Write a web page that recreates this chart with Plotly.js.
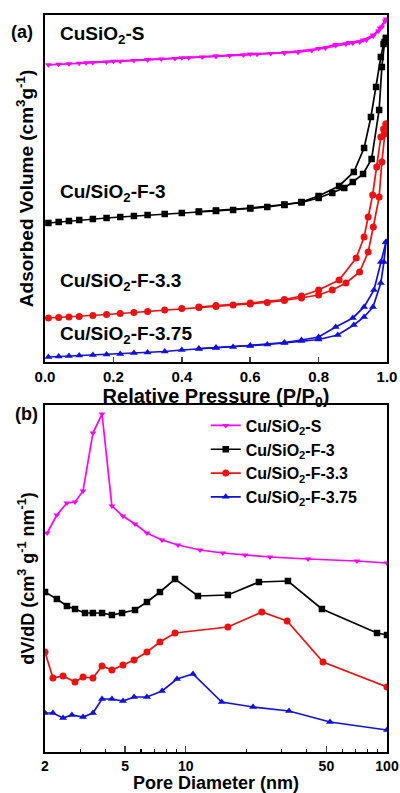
<!DOCTYPE html>
<html>
<head>
<meta charset="utf-8">
<script src="https://cdn.plot.ly/plotly-3.0.1.min.js"></script>
<style>html,body{margin:0;padding:0;background:#fff;}#chart{width:400px;height:793px;}</style>
</head>
<body>
<div id="chart"></div>
<script>
// ---------- Panel (a): N2 isotherms (arbitrary offset units) ----------
const sAdsP = [0.01,0.04,0.07,0.10,0.14,0.18,0.22,0.26,0.30,0.34,0.38,0.42,0.46,0.50,0.54,0.58,0.62,0.66,0.70,0.74,0.78,0.82,0.85,0.88,0.90,0.92,0.94,0.96,0.975,0.985,0.995];
const sAdsV = [297.2,297.7,298.2,298.7,299.4,300.1,300.8,301.5,302.2,302.9,303.6,304.3,305.0,305.7,306.4,307.1,307.7,308.4,309.1,309.8,311.5,314,316.5,318,319,320,322,326,331,335,341];
const sDesP = [0.997,0.98,0.96,0.93,0.89,0.85,0.80,0.70,0.60,0.50,0.40,0.30,0.20,0.12];
const sDesV = [343,334,327,322,319.5,317.5,313.5,309.5,308,306,304.3,302.5,300.8,299.3];

const f3AdsP = [0.01,0.04,0.07,0.10,0.14,0.18,0.22,0.26,0.30,0.35,0.40,0.45,0.50,0.55,0.60,0.65,0.70,0.75,0.80,0.84,0.875,0.90,0.93,0.955,0.977,0.985,0.993,0.997];
const f3AdsV = [139,140,141,142,143,144,145,146,147,148,149,150,151,152,153.5,155,157,159.5,164,169,174,180,188,203,252,295,320,324];
const f3DesP = [0.997,0.99,0.982,0.968,0.953,0.933,0.903,0.86,0.80,0.75,0.70,0.60,0.50,0.45];
const f3DesV = [324,318,305,275,245,214,190,176,166,160,157.5,154,151.5,150.5];

const f33AdsP = [0.01,0.04,0.07,0.10,0.14,0.18,0.22,0.26,0.30,0.35,0.40,0.45,0.50,0.55,0.60,0.65,0.70,0.75,0.80,0.84,0.88,0.92,0.945,0.96,0.977,0.985,0.993,0.997];
const f33AdsV = [44,44.5,45,45.5,46.5,47.5,48.5,49.5,50.5,52,53.5,54.5,55.5,57,58,59.5,61.5,64,67,72,79,90,110,135,165,200,228,238];
const f33DesP = [0.997,0.99,0.982,0.97,0.958,0.945,0.933,0.91,0.86,0.80,0.75,0.70,0.60,0.50,0.45];
const f33DesV = [238,233,225,195,167,145,125,104,82,72,66,62.5,59,56.5,55];

const f375AdsP = [0.01,0.04,0.07,0.10,0.14,0.18,0.22,0.26,0.30,0.35,0.40,0.45,0.50,0.55,0.60,0.65,0.70,0.75,0.80,0.856,0.903,0.933,0.959,0.982,0.991,0.997];
const f375AdsV = [5,5.5,6,6.5,7,7.5,8,9,9.5,10.5,12,13,14,15,16,17.5,19,21,22.5,27,37,45,55,79,100,120];
const f375DesP = [0.997,0.982,0.962,0.933,0.90,0.85,0.80,0.75,0.70,0.60,0.50,0.45];
const f375DesV = [120,100,72,55,44,35,25,22,19.5,16.5,14.5,13.5];

// ---------- Panel (b): pore size distributions (arbitrary offset units) ----------
const sD = [2.05,2.29,2.57,2.82,3.09,3.46,3.84,4.30,4.88,5.60,6.42,7.63,9.16,11.78,15.3,19.7,26.2,40.5,70.9,100];
const sDV = [222,240,252,253,264,322,341,249,239,231,222,215,210,205,202,200,198,196,194,192];

const f3D = [2.0,2.29,2.57,2.82,3.16,3.46,3.84,4.30,4.83,5.60,6.42,7.45,8.85,11.5,16.2,23.1,32.2,47.5,89.2,100];
const f3DV = [163,156,149,146,142,142,142,140,142,145,153,163,176,159,160,173,174,146,122,120];

const f33D = [2.0,2.19,2.46,2.82,3.09,3.46,3.84,4.30,4.88,5.54,6.42,7.45,8.85,16.2,23.9,31.9,48.1,100];
const f33DV = [103,77,79,73,78,77,89,85,90,95,103,113,122,128,143,134,93,68];

const f375D = [2.0,2.19,2.46,2.72,3.09,3.46,3.84,4.30,4.88,5.54,6.42,7.63,9.05,10.87,15.1,21.6,32.6,52.1,100];
const f375DV = [42,42,37,40,38,42,56,56,54,58,58,64,76,81,53,48,44,33,25];

const names = ['Cu/SiO<sub>2</sub>-S','Cu/SiO<sub>2</sub>-F-3','Cu/SiO<sub>2</sub>-F-3.3','Cu/SiO<sub>2</sub>-F-3.75'];
const colors = ['#ff00ff','#000000','#ee1111','#1111dd'];
const symbols = ['triangle-down','square','circle','triangle-up'];
const msizes = [6,6.5,7,7];

function tr(x,y,i,xa,ya,show){
  return {x:x,y:y,xaxis:xa,yaxis:ya,type:'scatter',mode:'lines+markers',
    name:names[i],showlegend:show,legendgroup:'g'+i,
    line:{color:colors[i],width:1.7},
    marker:{symbol:symbols[i],size:msizes[i],color:colors[i]}};
}
const data = [
  tr(sAdsP,sAdsV,0,'x','y',false), tr(sDesP,sDesV,0,'x','y',false),
  tr(f3AdsP,f3AdsV,1,'x','y',false), tr(f3DesP,f3DesV,1,'x','y',false),
  tr(f33AdsP,f33AdsV,2,'x','y',false), tr(f33DesP,f33DesV,2,'x','y',false),
  tr(f375AdsP,f375AdsV,3,'x','y',false), tr(f375DesP,f375DesV,3,'x','y',false),
  tr(sD,sDV,0,'x2','y2',true), tr(f3D,f3DV,1,'x2','y2',true),
  tr(f33D,f33DV,2,'x2','y2',true), tr(f375D,f375DV,3,'x2','y2',true)
];

const fam = 'Liberation Sans, Arial, sans-serif';
const axBase = {showline:true,mirror:true,linecolor:'#000',linewidth:2,showgrid:false,zeroline:false};
const lbl = (t,x,y)=>({text:'<b>'+t+'</b>',x:x,y:y,xref:'x',yref:'y',xanchor:'left',yanchor:'middle',showarrow:false,font:{family:fam,size:19,color:'#000'}});

const layout = {
  width:400,height:793,
  margin:{l:45,r:13,t:15,b:41},
  paper_bgcolor:'#fff',plot_bgcolor:'#fff',
  font:{family:fam,color:'#000'},
  xaxis:Object.assign({},axBase,{domain:[0,1],anchor:'y',range:[0,1.0],tickmode:'array',
    tickvals:[0,0.2,0.4,0.6,0.8,1.0],ticktext:['<b>0.0</b>','<b>0.2</b>','<b>0.4</b>','<b>0.6</b>','<b>0.8</b>','<b>1.0</b>'],
    ticks:'inside',ticklen:5,tickwidth:1.5,tickfont:{size:15,family:fam},
    title:{text:'<b>Relative Pressure (P/P<sub>0</sub>)</b>',font:{size:20,family:fam},standoff:0}}),
  yaxis:Object.assign({},axBase,{domain:[0.5292,1],anchor:'x',range:[0,347],showticklabels:false,ticks:'',
    title:{text:'<b>Adsorbed Volume (cm<sup>3</sup>g<sup>-1</sup>)</b>',font:{size:19,family:fam},standoff:4}}),
  xaxis2:Object.assign({},axBase,{domain:[0,1],anchor:'y2',type:'log',range:[Math.log10(2),2],tickmode:'array',
    tickvals:[2,5,10,50,100],ticktext:['<b>2</b>','<b>5</b>','<b>10</b>','<b>50</b>','<b>100</b>'],
    ticks:'inside',ticklen:6,tickwidth:1.5,tickfont:{size:14,family:fam},
    minor:{tickmode:'array',tickvals:[3,4,6,7,8,9,20,30,40,60,70,80,90],ticks:'inside',ticklen:3,tickwidth:1.2,tickcolor:'#000',showgrid:false},
    title:{text:'<b>Pore Diameter (nm)</b>',font:{size:18,family:fam},standoff:0}}),
  yaxis2:Object.assign({},axBase,{domain:[0,0.4708],anchor:'x2',range:[3,350],showticklabels:false,ticks:'',
    title:{text:'<b>dV/dD (cm<sup>3</sup> g<sup>-1</sup> nm<sup>-1</sup>)</b>',font:{size:18,family:fam},standoff:4}}),
  legend:{x:0.47,y:0.466,xanchor:'left',yanchor:'top',bgcolor:'rgba(0,0,0,0)',font:{size:16,family:fam},tracegroupgap:0,itemwidth:30},
  annotations:[
    {text:'<b>(a)</b>',x:-0.067,y:0.977,xref:'paper',yref:'paper',xanchor:'center',yanchor:'middle',showarrow:false,font:{family:fam,size:18}},
    {text:'<b>(b)</b>',x:-0.055,y:0.458,xref:'paper',yref:'paper',xanchor:'center',yanchor:'middle',showarrow:false,font:{family:fam,size:18}},
    lbl('CuSiO<sub>2</sub>-S',0.038,327),
    lbl('Cu/SiO<sub>2</sub>-F-3',0.038,169),
    lbl('Cu/SiO<sub>2</sub>-F-3.3',0.038,80),
    lbl('Cu/SiO<sub>2</sub>-F-3.75',0.038,27)
  ]
};
data.forEach(d=>{ if(d.showlegend) d.name='<b>'+d.name+'</b>'; });
Plotly.newPlot('chart',data,layout,{displayModeBar:false,staticPlot:true});
</script>
</body>
</html>
